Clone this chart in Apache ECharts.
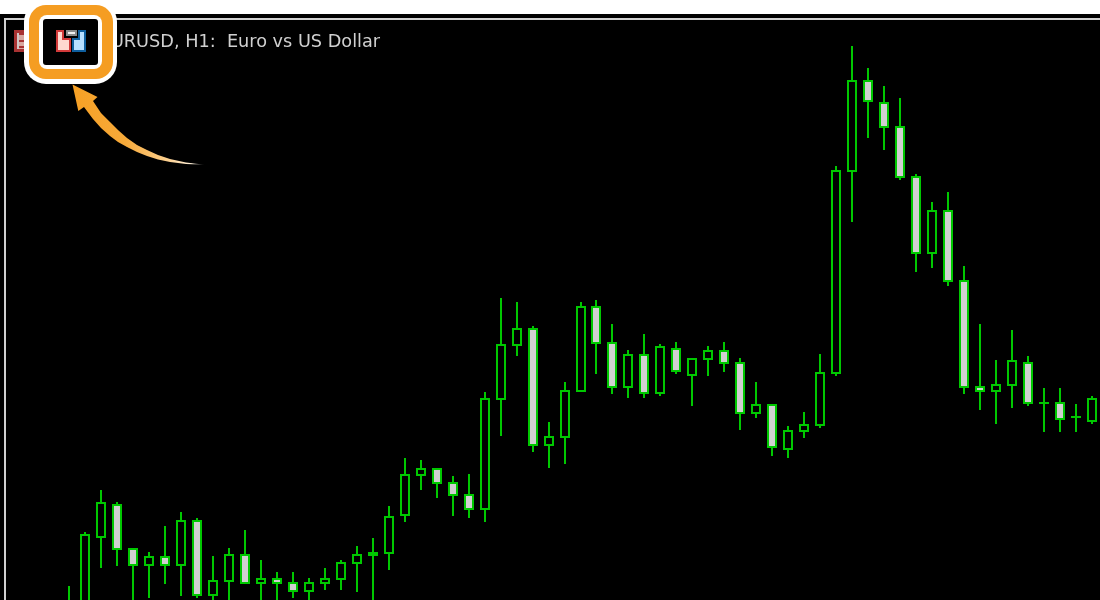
<!DOCTYPE html>
<html>
<head>
<meta charset="utf-8">
<style>html,body{margin:0;padding:0;background:#000}#c{width:1100px;height:600px}</style>
<script src="https://cdn.jsdelivr.net/npm/echarts@6/dist/echarts.min.js"></script>
</head>
<body>
<div id="c"></div>
<script>
const chartTitle = 'EURUSD, H1:  Euro vs US Dollar';
const opens = [1.1170,1.1180,1.1263,1.1295,1.1251,1.1235,1.1243,1.1235,1.1279,1.1205,1.1219,1.1245,1.1217,1.1221,1.1217,1.1209,1.1217,1.1221,1.1237,1.1247,1.1247,1.1285,1.1325,1.1331,1.1317,1.1305,1.1291,1.1401,1.1455,1.1471,1.1355,1.1363,1.1409,1.1493,1.1457,1.1413,1.1445,1.1407,1.1451,1.1425,1.1441,1.1449,1.1437,1.1387,1.1395,1.1351,1.1369,1.1375,1.1427,1.1629,1.1719,1.1697,1.1673,1.1623,1.1547,1.1589,1.1519,1.1413,1.1409,1.1415,1.1437,1.1397,1.1397,1.1383,1.1379];
const closes = [1.1190,1.1265,1.1297,1.1251,1.1235,1.1243,1.1235,1.1279,1.1205,1.1219,1.1245,1.1217,1.1221,1.1217,1.1209,1.1217,1.1221,1.1237,1.1245,1.1245,1.1283,1.1325,1.1331,1.1317,1.1305,1.1291,1.1401,1.1455,1.1471,1.1355,1.1363,1.1409,1.1493,1.1457,1.1413,1.1445,1.1407,1.1453,1.1429,1.1441,1.1449,1.1437,1.1387,1.1395,1.1353,1.1369,1.1375,1.1427,1.1629,1.1719,1.1699,1.1673,1.1623,1.1547,1.1589,1.1519,1.1413,1.1409,1.1415,1.1439,1.1397,1.1397,1.1381,1.1383,1.1401];
const lows = [1.1160,1.1170,1.1232,1.1234,1.1190,1.1202,1.1216,1.1204,1.1202,1.1190,1.1190,1.1217,1.1190,1.1190,1.1202,1.1190,1.1210,1.1210,1.1208,1.1190,1.1230,1.1278,1.1310,1.1302,1.1284,1.1282,1.1278,1.1364,1.1444,1.1348,1.1332,1.1336,1.1409,1.1426,1.1406,1.1402,1.1402,1.1404,1.1426,1.1394,1.1424,1.1428,1.1370,1.1382,1.1344,1.1342,1.1362,1.1372,1.1424,1.1578,1.1662,1.1650,1.1620,1.1528,1.1532,1.1514,1.1406,1.1390,1.1376,1.1392,1.1394,1.1368,1.1368,1.1368,1.1376];
const highs = [1.1214,1.1268,1.1310,1.1298,1.1251,1.1248,1.1274,1.1288,1.1282,1.1244,1.1252,1.1270,1.1240,1.1228,1.1228,1.1222,1.1232,1.1240,1.1254,1.1262,1.1294,1.1342,1.1340,1.1331,1.1324,1.1326,1.1408,1.1502,1.1498,1.1474,1.1378,1.1418,1.1498,1.1500,1.1476,1.1450,1.1466,1.1456,1.1458,1.1441,1.1454,1.1458,1.1442,1.1418,1.1395,1.1374,1.1388,1.1446,1.1634,1.1754,1.1732,1.1714,1.1702,1.1626,1.1598,1.1608,1.1534,1.1476,1.1440,1.1470,1.1444,1.1412,1.1412,1.1396,1.1404];
const hours = opens.map((_, i) => String(i));

const GREEN = '#00c800';
const rows = opens.map((o, i) => [i, o, closes[i], lows[i], highs[i]]);

const chart = echarts.init(document.getElementById('c'), null, {renderer: 'canvas'});

function r(x, y, w, h, fill, rad, z) {
  return {type: 'rect', silent: true, z: z || 10, shape: {x, y, width: w, height: h, r: rad || 0}, style: {fill}};
}
function poly(points, style, z) {
  return {type: 'polygon', silent: true, z: z || 24, shape: {points}, style};
}
const arrowFill = new echarts.graphic.LinearGradient(0, 0, 1, 0, [
  {offset: 0, color: '#f6a024'},
  {offset: 0.4, color: '#f7aa3a'},
  {offset: 0.72, color: '#fcd090'},
  {offset: 0.9, color: '#fff0d8'},
  {offset: 1, color: 'rgba(255,255,255,0)'}
]);

// One candle: crisp 2px wick, 10px wide body with a 2px border, placed by the axes.
function renderCandle(params, api) {
  const x = Math.round(api.coord([api.value(0), 0])[0]);
  const yOf = v => Math.round(api.coord([api.value(0), v])[1]);
  const o = yOf(api.value(1)), c = yOf(api.value(2));
  const lo = yOf(api.value(3)), hi = yOf(api.value(4));
  const top = Math.min(o, c), bot = Math.max(o, c);
  const rect = (rx, ry, rw, rh, fill) => ({type: 'rect', shape: {x: rx, y: ry, width: rw, height: rh}, style: {fill}});
  const children = [
    rect(x - 1, hi, 2, lo - hi, GREEN),
    rect(x - 5, top - 1, 10, bot - top + 2, GREEN)
  ];
  if (bot - top > 2) {
    children.push(rect(x - 3, top + 1, 6, bot - top - 2, api.value(2) > api.value(1) ? '#000' : '#d0d0d0'));
  }
  return {type: 'group', children};
}

chart.setOption({
  animation: false,
  backgroundColor: '#000',
  grid: {left: 61, top: 0, width: 1040, height: 600, containLabel: false},
  xAxis: {type: 'category', data: hours, show: false, boundaryGap: true},
  yAxis: {type: 'value', show: false, scale: true, min: 1.12, max: 1.18, splitLine: {show: false}},
  series: [{
    type: 'custom',
    name: 'EURUSD',
    data: rows,
    dimensions: ['hour', 'open', 'close', 'low', 'high'],
    encode: {x: 0, y: [1, 2, 3, 4]},
    clip: true,
    renderItem: renderCandle
  }],
  graphic: [
    r(0, 0, 1100, 14, '#fff'),
    r(4, 18, 1096, 2, '#d0d0d0'),
    r(4, 18, 2, 582, '#d0d0d0'),
    {type: 'text', silent: true, z: 11, style: {text: chartTitle, x: 99.7, y: 42, fill: '#d0d0d0', font: '17.7px "DejaVu Sans"', textVerticalAlign: 'middle'}},
    r(14, 30, 14, 22, '#a83232', 0, 11),
    r(17, 33, 11, 16, '#d8a8a0', 0, 11),
    r(17, 33, 2, 16, '#d0c4c4', 0, 11),
    r(19, 33, 9, 2, '#a83232', 0, 11),
    r(19, 40, 9, 2, '#a83232', 0, 11),
    r(19, 46, 9, 2, '#a83232', 0, 11),
    r(24, 0, 93, 84, '#fff', 22, 20),
    r(29, 5, 84, 74, '#f59d22', 17, 21),
    r(39, 15, 63, 54, '#fff', 8, 22),
    r(43, 19, 55, 46, '#000', 3, 23),
    poly([[57,31],[63,31],[63,39],[70,39],[70,51],[57,51]], {fill: '#ffd8cf', stroke: '#d23a3a', lineWidth: 2}),
    poly([[85,31],[79,31],[79,39],[73,39],[73,51],[85,51]], {fill: '#b8e0ff', stroke: '#0f5f9e', lineWidth: 2}),
    r(66, 30, 11, 6, '#8a8a8a', 0, 24),
    r(68, 32, 7, 2, '#f0f0f0', 0, 25),
    poly([[72.5,84.5],[97.5,97],[93,101],[101,113],[110,122],[118,130],[127,138],[137,145],[147,150],[158,155],[170,159],[186,162.5],[205,164.7],[186,164],[170,162],[158,159.5],[147,156],[137,152],[127,147],[118,142],[110,136],[101,128],[93,119],[84,107],[78.3,111]], {fill: arrowFill})
  ]
});
</script>
</body>
</html>
